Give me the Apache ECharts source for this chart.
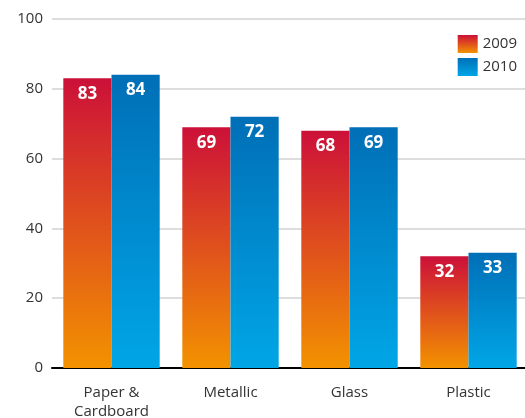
<!DOCTYPE html>
<html>
<head>
<meta charset="utf-8">
<style>
  html, body { margin: 0; padding: 0; background: #fff; }
  #chart { width: 525px; height: 418px; }
</style>
<script src="https://cdn.jsdelivr.net/npm/echarts@6/dist/echarts.min.js"></script>
</head>
<body>
<div id="chart"></div>
<script>
// Recycling rates by packaging material (%)
const categories = ['Paper &\nCardboard', 'Metallic', 'Glass', 'Plastic'];
const years = ['2009', '2010'];
const values2009 = [83, 69, 68, 32];
const values2010 = [84, 72, 69, 33];
const yTicks = [0, 20, 40, 60, 80, 100];

const font = 'Open Sans';

function vGrad(top, bottom) {
  return new echarts.graphic.LinearGradient(0, 0, 0, 1, [
    { offset: 0, color: top },
    { offset: 1, color: bottom }
  ]);
}

const barLabel = {
  show: true,
  position: 'insideTop',
  distance: 7,
  color: '#fff',
  fontFamily: font,
  fontWeight: 'bold',
  fontSize: 17
};

const chart = echarts.init(document.getElementById('chart'), null, { renderer: 'canvas' });
chart.setOption({
  animation: false,
  textStyle: { fontFamily: font },
  grid: {
    left: 52, top: 19, width: 476, height: 349,
    containLabel: false,
    outerBoundsMode: 'none'
  },
  legend: {
    data: years,
    orient: 'vertical',
    right: 3,
    top: 30,
    itemWidth: 20,
    itemHeight: 18,
    itemGap: 5,
    icon: 'rect',
    textStyle: { fontFamily: font, fontSize: 15, color: '#333' }
  },
  xAxis: {
    type: 'category',
    data: categories,
    axisLine: { show: true, lineStyle: { color: '#000', width: 2 } },
    axisTick: { show: false },
    axisLabel: { color: '#333', fontSize: 15, fontFamily: font, margin: 15, lineHeight: 19 }
  },
  yAxis: {
    type: 'value',
    min: yTicks[0],
    max: yTicks[yTicks.length - 1],
    interval: 20,
    axisLine: { show: false },
    axisTick: { show: false },
    axisLabel: { color: '#333', fontSize: 15, fontFamily: font, margin: 9 },
    splitLine: { lineStyle: { color: '#dddddd', width: 2 } }
  },
  series: [
    {
      name: years[0],
      type: 'bar',
      data: values2009,
      barGap: '0%',
      barCategoryGap: '19%',
      itemStyle: { color: vGrad('#cc1039', '#f39200') },
      label: barLabel
    },
    {
      name: years[1],
      type: 'bar',
      data: values2010,
      itemStyle: { color: vGrad('#006fb7', '#00a6e6') },
      label: barLabel
    }
  ]
});
</script>
</body>
</html>
